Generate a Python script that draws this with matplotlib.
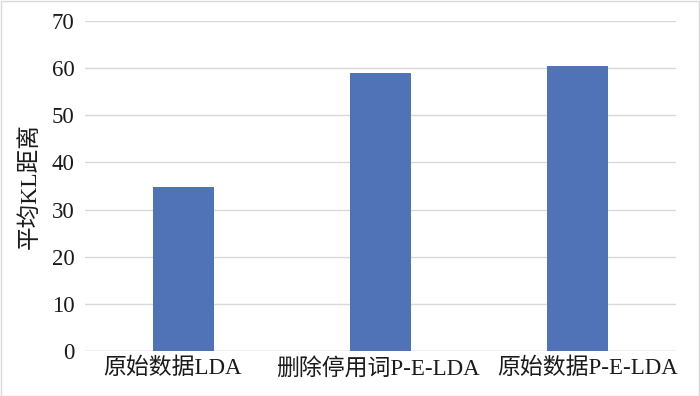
import matplotlib.pyplot as plt
import matplotlib.transforms as mtransforms
from matplotlib.patches import Rectangle

plt.rcParams['font.family'] = ['Liberation Serif', 'Noto Sans CJK SC']

categories = ['原始数据LDA', '删除停用词P-E-LDA', '原始数据P-E-LDA']
values = [34.7, 58.9, 60.5]
yticks = [0, 10, 20, 30, 40, 50, 60, 70]

fig = plt.figure(figsize=(7, 3.96), dpi=100)
ax = fig.add_axes([0.122, 0.1136, 0.844, 0.8334])

ax.bar(range(len(categories)), values, width=0.31, color='#4f73b6', zorder=3)
ax.set_xlim(-0.5, len(categories) - 0.5)
ax.set_ylim(0, 70)
ax.set_yticks(yticks)
ax.set_xticks(range(len(categories)))
ax.set_xticklabels(categories)
ax.tick_params(axis='both', length=0, labelsize=16.5, colors='#1a1a1a')
ax.tick_params(axis='y', pad=8)
ax.tick_params(axis='x', pad=5)
ax.grid(axis='y', color='#d9d9d9', linewidth=1, zorder=0)
for s in ax.spines.values():
    s.set_visible(False)
ax.axhline(0, color='#d9d9d9', linewidth=1, zorder=2)
ax.set_ylabel('平均KL距离', fontsize=17, color='#1a1a1a', labelpad=8)

# spread the category labels a little, like the original
shifts = [-11, -3, 10]
for lab, dx in zip(ax.get_xticklabels(), shifts):
    lab.set_transform(lab.get_transform() + mtransforms.ScaledTranslation(dx / 100, 0, fig.dpi_scale_trans))

# outer border
fig.patches.append(Rectangle((0.001, 0.001), 0.998, 0.997, transform=fig.transFigure,
                             fill=False, edgecolor='#d9d9d9', linewidth=1))

plt.savefig('out.png', dpi=100)
